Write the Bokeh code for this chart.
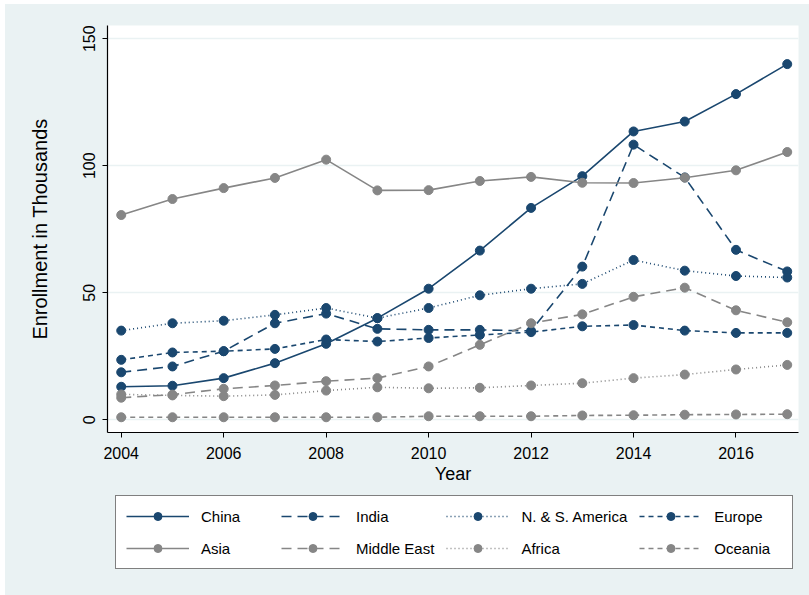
from bokeh.plotting import figure
from bokeh.layouts import column
from bokeh.models import Legend, LegendItem, FixedTicker, Range1d
from bokeh.embed import file_html
from bokeh.resources import INLINE

# International student enrollment (thousands) by region of origin
years = [2004, 2005, 2006, 2007, 2008, 2009, 2010, 2011, 2012, 2013, 2014, 2015, 2016, 2017]
china = [13.0, 13.4, 16.4, 22.3, 29.9, 40.0, 51.6, 66.6, 83.4, 95.9, 113.5, 117.4, 128.2, 140.0]
india = [18.7, 21.0, 27.0, 38.0, 41.8, 35.8, 35.4, 35.4, 35.0, 60.3, 108.3, 95.4, 66.9, 58.4]
americas = [35.1, 38.0, 39.0, 41.3, 44.0, 40.0, 44.0, 49.0, 51.6, 53.5, 62.9, 58.7, 56.6, 56.0]
europe = [23.6, 26.5, 27.0, 27.9, 31.6, 30.8, 32.2, 33.4, 34.5, 36.8, 37.3, 35.1, 34.2, 34.2]
asia = [80.6, 86.9, 91.2, 95.2, 102.4, 90.3, 90.4, 94.0, 95.6, 93.3, 93.2, 95.3, 98.2, 105.4]
mideast = [8.7, 9.9, 12.2, 13.5, 15.2, 16.4, 21.0, 29.5, 38.0, 41.5, 48.4, 52.0, 43.1, 38.4]
africa = [10.0, 9.6, 9.3, 9.8, 11.5, 12.8, 12.4, 12.6, 13.5, 14.4, 16.4, 17.8, 19.8, 21.6]
oceania = [1.0, 1.0, 1.0, 1.0, 1.0, 1.0, 1.4, 1.4, 1.4, 1.7, 1.8, 2.0, 2.1, 2.2]

x_ticks = [2004, 2006, 2008, 2010, 2012, 2014, 2016]
y_ticks = [0, 50, 100, 150]

NAVY = "#1a476f"
GRAY = "#868686"
BG = "#eaf2f3"
FONT = "Liberation Sans"

series = [
    ("China", china, NAVY, "solid"),
    ("India", india, NAVY, "10 6"),
    ("N. & S. America", americas, NAVY, "1 3"),
    ("Europe", europe, NAVY, "5 4"),
    ("Asia", asia, GRAY, "solid"),
    ("Middle East", mideast, GRAY, "10 6"),
    ("Africa", africa, GRAY, "1 3"),
    ("Oceania", oceania, GRAY, "5 4"),
]

# ---- main chart ----
p = figure(
    frame_width=691, frame_height=407,
    x_range=Range1d(2003.732, 2017.22), y_range=Range1d(-5.0, 155.2),
    output_backend="svg", toolbar_location=None,
    min_border_left=102, min_border_right=11, min_border_top=21, min_border_bottom=62,
    background_fill_color="white", border_fill_color=BG, outline_line_color=None,
)

for name, vals, color, dash in series:
    p.line(years, vals, line_color=color, line_width=1.6, line_dash=dash)
    p.scatter(years, vals, size=9, fill_color=color, line_color=color)

for ax in (p.xaxis[0], p.yaxis[0]):
    ax.axis_line_color = "black"
    ax.axis_line_width = 1.2
    ax.major_tick_line_color = "black"
    ax.major_tick_out = 5
    ax.major_tick_in = 0
    ax.minor_tick_line_color = None
    ax.major_label_text_font = FONT
    ax.major_label_text_font_size = "16px"
    ax.major_label_text_color = "black"
    ax.axis_label_text_font = FONT
    ax.axis_label_text_font_style = "normal"
    ax.axis_label_text_color = "black"

p.xaxis.ticker = FixedTicker(ticks=x_ticks)
p.yaxis.ticker = FixedTicker(ticks=y_ticks)
p.xaxis.axis_label = "Year"
p.xaxis.axis_label_text_font_size = "18px"
p.xaxis.major_label_standoff = 9
p.xaxis.axis_label_standoff = 2
p.yaxis.axis_label = "Enrollment in Thousands"
p.yaxis.axis_label_text_font_size = "20px"
p.yaxis.major_label_orientation = "parallel"
p.yaxis.major_label_standoff = 7
p.yaxis.axis_label_standoff = 30

p.xgrid.grid_line_color = None
p.ygrid.grid_line_color = BG
p.ygrid.grid_line_width = 1.5

# ---- legend strip under the chart ----
# key glyphs are drawn from the same series, outside this strip's ranges
lf = figure(
    width=804, height=101,
    x_range=Range1d(0, 1), y_range=Range1d(0, 1),
    x_axis_type=None, y_axis_type=None,
    output_backend="svg", toolbar_location=None,
    min_border=0, background_fill_color=BG, border_fill_color=BG,
    outline_line_color=None,
)
lf.xgrid.grid_line_color = None
lf.ygrid.grid_line_color = None

items = []
for name, vals, color, dash in series:
    ln = lf.line(years, vals, line_color=color, line_width=1.6, line_dash=dash)
    sc = lf.scatter(years, vals, size=9, fill_color=color, line_color=color)
    items.append(LegendItem(label=name, renderers=[ln, sc]))

# the strip's frame is aligned with the chart's frame, so offsets are from it
legend = Legend(
    items=items, ncols=4, orientation="horizontal", location=(8, 26),
    border_line_color="black", border_line_width=1.2, background_fill_color="white",
    background_fill_alpha=1.0,
    label_text_font=FONT, label_text_font_size="15px", label_text_color="black",
    glyph_width=63, glyph_height=20, label_standoff=12, label_width=68,
    spacing=12, padding=10, margin=0,
)
lf.add_layout(legend, "center")

page = column(p, lf, spacing=0, margin=(4, 0, 0, 5), styles={"background-color": BG})
open("out.html", "w").write(file_html(page, INLINE))
